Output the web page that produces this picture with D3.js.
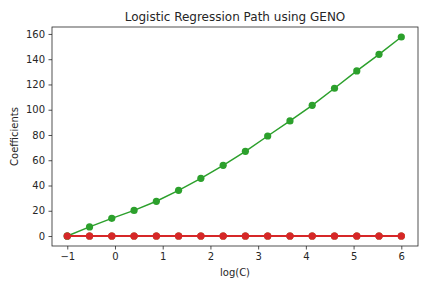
<!DOCTYPE html>
<html>
<head>
<meta charset="utf-8">
<script src="https://cdn.jsdelivr.net/npm/d3@7"></script>
<style>
  body { margin: 0; background: #fff; }
  text { font-family: "DejaVu Sans", sans-serif; fill: #262626; }
</style>
</head>
<body>
<script>
// log(C) values on the x axis
const logC = [-1, -0.533, -0.067, 0.4, 0.867, 1.333, 1.8, 2.267, 2.733, 3.2, 3.667, 4.133, 4.6, 5.067, 5.533, 6];

// coefficient paths, one per feature
const coef0 = [0, 0, 0, 0, 0, 0, 0, 0, 0, 0, 0, 0, 0, 0, 0, 0];
const coef1 = [0, 0, 0, 0, 0, 0, 0, 0, 0, 0, 0, 0, 0, 0, 0, 0];
const coef2 = [0, 7.2, 14.0, 20.3, 27.5, 36.2, 45.7, 56.0, 67.1, 79.2, 91.1, 103.5, 117.0, 130.7, 143.9, 157.6];
const coef3 = [0, 0, 0, 0, 0, 0, 0, 0, 0, 0, 0, 0, 0, 0, 0, 0];

const xTicks = [-1, 0, 1, 2, 3, 4, 5, 6];
const yTicks = [0, 20, 40, 60, 80, 100, 120, 140, 160];

const colors = ["#1f77b4", "#ff7f0e", "#2ca02c", "#d62728"];
const series = [coef0, coef1, coef2, coef3];

const w = 432;
const h = 288;
const margin = { left: 52, top: 27, right: 14, bottom: 42 };

const svg = d3.select("body").append("svg")
  .attr("width", w)
  .attr("height", h);

const xScale = d3.scaleLinear()
  .domain([-1.32, 6.35])
  .range([margin.left, w - margin.right]);

const yScale = d3.scaleLinear()
  .domain([-7.9, 165.5])
  .range([h - margin.bottom, margin.top]);

// lines + markers
const line = d3.line()
  .x((d, i) => xScale(logC[i]))
  .y((d) => yScale(d));

series.forEach((s, k) => {
  const g = svg.append("g");
  g.append("path")
    .datum(s)
    .attr("d", line)
    .attr("fill", "none")
    .attr("stroke", colors[k])
    .attr("stroke-width", k === 2 ? 1.5 : 2);
  g.selectAll("circle")
    .data(s)
    .enter()
    .append("circle")
    .attr("cx", (d, i) => xScale(logC[i]))
    .attr("cy", (d) => yScale(d))
    .attr("r", 3.6)
    .attr("fill", colors[k]);
});

// axes
const xAxis = d3.axisBottom(xScale).tickValues(xTicks).tickSizeOuter(0).tickSize(3.5).tickPadding(3.5);
const yAxis = d3.axisLeft(yScale).tickValues(yTicks).tickSizeOuter(0).tickSize(3.5).tickPadding(3.5);

const gx = svg.append("g")
  .attr("transform", "translate(0," + (h - margin.bottom) + ")")
  .call(xAxis);
const gy = svg.append("g")
  .attr("transform", "translate(" + margin.left + ",0)")
  .call(yAxis);

[gx, gy].forEach((g) => {
  g.select(".domain").remove();
  g.selectAll("line").attr("stroke", "#262626").attr("stroke-width", 0.8);
  g.selectAll("text").attr("font-size", 10).attr("font-family", "DejaVu Sans").attr("fill", "#262626");
});
gx.selectAll("text").text((d) => (d < 0 ? "\u2212" + Math.abs(d) : d));

// frame
svg.append("rect")
  .attr("x", margin.left)
  .attr("y", margin.top)
  .attr("width", w - margin.left - margin.right)
  .attr("height", h - margin.top - margin.bottom)
  .attr("fill", "none")
  .attr("stroke", "#262626")
  .attr("stroke-width", 0.8);

// labels
const cx = (margin.left + w - margin.right) / 2;
svg.append("text")
  .attr("x", cx)
  .attr("y", 21)
  .attr("text-anchor", "middle")
  .attr("font-size", 12)
  .text("Logistic Regression Path using GENO");

svg.append("text")
  .attr("x", cx)
  .attr("y", 276)
  .attr("text-anchor", "middle")
  .attr("font-size", 10)
  .text("log(C)");

svg.append("text")
  .attr("transform", "translate(18," + ((margin.top + h - margin.bottom) / 2) + ") rotate(-90)")
  .attr("text-anchor", "middle")
  .attr("font-size", 10)
  .text("Coefficients");
</script>
</body>
</html>
